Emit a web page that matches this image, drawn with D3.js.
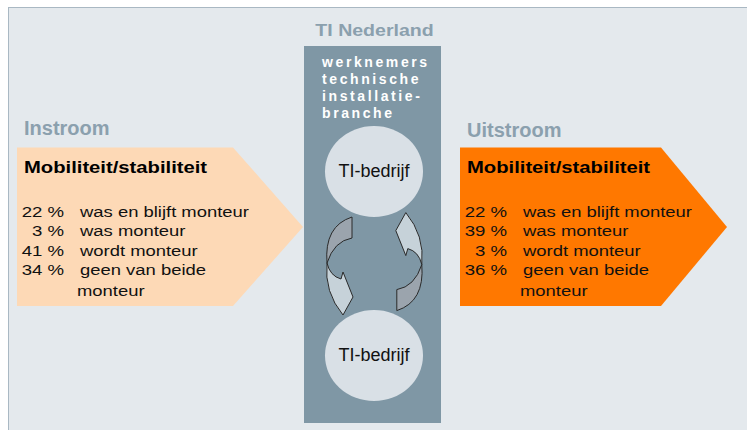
<!DOCTYPE html>
<html>
<head>
<meta charset="utf-8">
<script src="https://cdn.jsdelivr.net/npm/d3@7"></script>
<style>
  body { margin: 0; background: #fff; }
  svg text { font-family: "Liberation Sans", Arial, sans-serif; }
</style>
</head>
<body>
<svg id="chart" width="747" height="430"></svg>
<script>
// data
var categories = ["was en blijft monteur", "was monteur", "wordt monteur", "geen van beide monteur"];
var labelLines = [["was en blijft monteur"], ["was monteur"], ["wordt monteur"], ["geen van beide", "monteur"]];
var instroom = [22, 3, 41, 34];
var uitstroom = [22, 39, 3, 36];
var columnLines = ["werknemers", "technische", "installatie-", "branche"];
var companies = ["top", "bottom"];

var W = 747, H = 430;
var svg = d3.select("#chart");

// background panel
svg.append("rect").attr("x", 8.5).attr("y", 7.5).attr("width", 760).attr("height", 440)
  .attr("fill", "#e4e9ed").attr("stroke", "#a9b8c3").attr("stroke-width", 1);

// central column
svg.append("rect").attr("x", 304).attr("y", 46).attr("width", 137).attr("height", 377)
  .attr("fill", "#7f97a5");

svg.append("text").attr("transform", "translate(374.5,36) scale(1.15,1)")
  .attr("text-anchor", "middle").attr("font-size", 17).attr("font-weight", "bold")
  .attr("fill", "#8ba0ae").text("TI Nederland");

var yLine = d3.scalePoint().domain(columnLines).range([67, 118]);
svg.selectAll(".colText").data(columnLines).join("text").attr("class", "colText")
  .attr("x", 322).attr("y", d => yLine(d))
  .attr("font-size", 14).attr("font-weight", "bold").attr("letter-spacing", 2.6)
  .attr("fill", "#ffffff").text(d => d);

// company circles
var yCircle = d3.scalePoint().domain(companies).range([171.5, 355.5]);
svg.selectAll(".comp").data(companies).join("ellipse").attr("class", "comp")
  .attr("cx", 374).attr("cy", d => yCircle(d)).attr("rx", 49).attr("ry", 45.5)
  .attr("fill", "#d9e0e6");
svg.selectAll(".compText").data(companies).join("text").attr("class", "compText")
  .attr("x", 374).attr("y", d => yCircle(d) + 5).attr("text-anchor", "middle")
  .attr("font-size", 18).attr("fill", "#111").text("TI-bedrijf");

// curved cycle arrows (second is the first turned half round)
function drawArrow(rot) {
  var g = svg.append("g").attr("transform", rot ? "rotate(180,374.4,263.8)" : null);
  g.append("path")
    .attr("d", "M352,217 L352,238 Q334,241 327,263 Q324,226 352,217 Z")
    .attr("fill", "#9ba4ad").attr("stroke", "#2a2a2a").attr("stroke-width", 1).attr("stroke-linejoin", "round");
  g.append("path")
    .attr("d", "M327,263 Q324,292 343,315 L353,297 L343,272 L341,279 Q330,276 327,263 Z")
    .attr("fill", "#c6d2d9").attr("stroke", "#2a2a2a").attr("stroke-width", 1).attr("stroke-linejoin", "round");
}
drawArrow(false);
drawArrow(true);

// flow blocks
var yRow = d3.scalePoint().domain(categories).range([217, 275]);

function flowBlock(x0, body, tip, title, titleY, values, fill) {
  var pts = [[x0, 147.5], [x0 + body, 147.5], [x0 + tip, 227], [x0 + body, 306], [x0, 306]];
  svg.append("path").attr("d", d3.line()(pts) + "Z").attr("fill", fill);

  svg.append("text").attr("x", x0 + 7).attr("y", titleY)
    .attr("font-size", 20).attr("font-weight", "bold").attr("fill", "#8ba0ae").text(title);

  svg.append("text").attr("transform", `translate(${x0 + 7},173) scale(1.19,1)`)
    .attr("font-size", 17).attr("font-weight", "bold").attr("fill", "#000").text("Mobiliteit/stabiliteit");

  var rows = svg.append("g");
  rows.selectAll(".pct").data(values).join("text")
    .attr("transform", (d, i) => `translate(${x0 + 47},${yRow(categories[i])}) scale(1.2,1)`)
    .attr("text-anchor", "end").attr("font-size", 15.5).attr("fill", "#111")
    .text(d => d + " %");
  rows.selectAll(".lab").data(labelLines).join("g")
    .attr("transform", (d, i) => `translate(${x0 + 63},${yRow(categories[i])})`)
    .selectAll("text").data(d => d).join("text")
    .attr("transform", (d, j) => `translate(${j ? -3 : 0},${j * 21}) scale(1.19,1)`)
    .attr("font-size", 15.5).attr("fill", "#111").text(d => d);
}

flowBlock(17, 216, 286, "Instroom", 135, instroom, "#fdd9b6");
flowBlock(460, 201, 267, "Uitstroom", 137, uitstroom, "#ff7800");
</script>
</body>
</html>
